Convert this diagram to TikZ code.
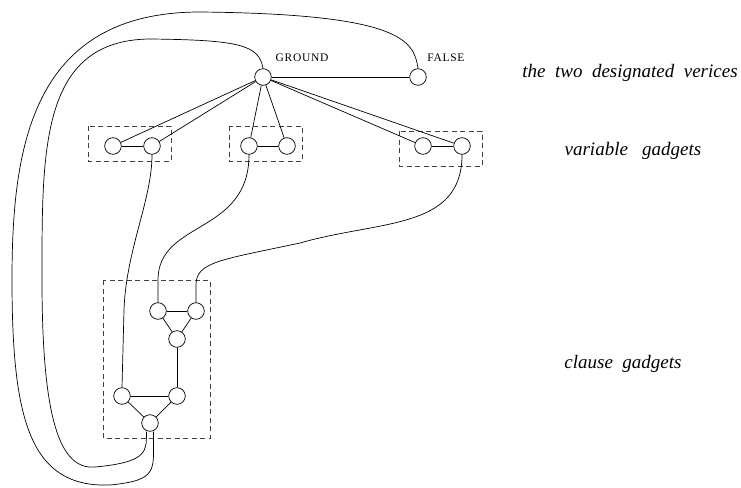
\documentclass[tikz,border=0pt]{standalone}
\usepackage{fontspec}
\setmainfont{Liberation Serif}
\begin{document}
\begin{tikzpicture}[x=1pt,y=-1pt,
  vtx/.style={circle,draw,line width=0.7pt,minimum size=16.6pt,inner sep=0pt,fill=white},
  edge/.style={line width=0.7pt},
  curve/.style={line width=0.7pt},
  gbox/.style={draw=black!75,line width=0.7pt,dash pattern=on 5pt off 3.5pt},
  lab/.style={font=\fontsize{11.5}{13}\selectfont\addfontfeature{LetterSpace=6},inner sep=0pt},
  captxt/.style={font=\fontsize{19}{22}\selectfont\itshape,inner sep=0pt}]
\useasboundingbox (0,0) rectangle (741,487);
% boxes
\draw[gbox] (88,126) rectangle (171,161);
\draw[gbox] (229,126) rectangle (302,161);
\draw[gbox] (399,131) rectangle (482,166);
\draw[gbox] (103,280) rectangle (210,438);
% nodes
\node[vtx] (g) at (263,77) {};
\node[vtx] (f) at (418,77) {};
\node[vtx] (a1) at (113,146) {};
\node[vtx] (a2) at (152,146) {};
\node[vtx] (b1) at (249,146) {};
\node[vtx] (b2) at (287,146) {};
\node[vtx] (c1) at (423,146) {};
\node[vtx] (c2) at (462,146) {};
\node[vtx] (t1) at (158,311) {};
\node[vtx] (t2) at (196,311) {};
\node[vtx] (t3) at (177,339) {};
\node[vtx] (l1) at (122,396) {};
\node[vtx] (l2) at (177,396) {};
\node[vtx] (l3) at (150,423) {};
% labels
\node[lab] (gl) at (302,58) {GROUND};
\node[lab] (fl) at (446,58) {FALSE};
\node[captxt] (txt1) at (630,73) {the\ \ two\ \ designated\ \ verices};
\node[captxt] (txt2) at (633,151) {variable\ \ \ gadgets};
\node[captxt] (txt3) at (623,364) {clause\ \ gadgets};
% straight edges
\foreach \n in {f,a1,a2,b1,b2,c1,c2} \draw[edge] (g) -- (\n);
\draw[edge] (a1) -- (a2);
\draw[edge] (b1) -- (b2);
\draw[edge] (c1) -- (c2);
\draw[edge] (t1) -- (t2);
\draw[edge] (t1) -- (t3);
\draw[edge] (t2) -- (t3);
\draw[edge] (t3) -- (l2);
\draw[edge] (l1) -- (l2);
\draw[edge] (l1) -- (l3);
\draw[edge] (l2) -- (l3);
% curves
\draw[curve] (a2.south) .. controls (152,200) and (126,250) .. (124,310) -- (l1.north);
\draw[curve] (b1.south) .. controls (249,235) and (158,220) .. (158,280) -- (t1.north);
\draw[curve] (c2.south) .. controls (462,230) and (380,220) .. (300,243)
  .. controls (220,260) and (196,262) .. (196,285) -- (t2.north);
\draw[curve] (g.north) .. controls (259,45) and (240,40) .. (150,39)
  .. controls (40,40) and (42,150) .. (42,280)
  .. controls (42,420) and (60,470) .. (95,467)
  .. controls (150,462) and (146,450) .. ([xshift=-3.5pt]l3.south);
\draw[curve] (f.north) .. controls (414,40) and (400,14) .. (200,12)
  .. controls (30,12) and (12,150) .. (12,280)
  .. controls (12,420) and (30,488) .. (110,485)
  .. controls (160,480) and (153,470) .. ([xshift=3.5pt]l3.south);
\end{tikzpicture}
\end{document}
